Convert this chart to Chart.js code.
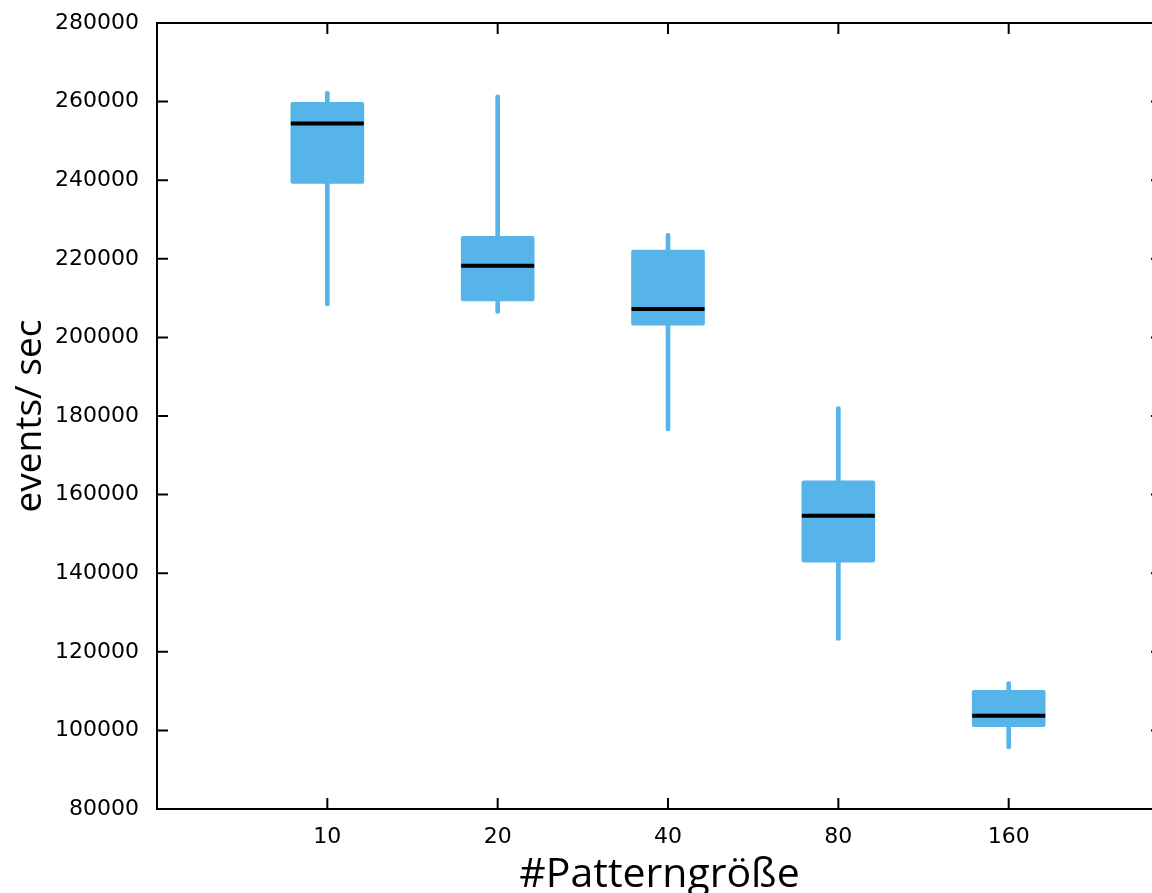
<!DOCTYPE html>
<html>
<head>
<meta charset="utf-8">
<script src="https://cdn.jsdelivr.net/npm/chart.js@4.4.1/dist/chart.umd.min.js"></script>
<style>
  html, body { margin: 0; padding: 0; background: #fff; overflow: hidden; }
  #wrap { width: 1175px; height: 893px; }
</style>
</head>
<body>
<div id="wrap"><canvas id="boxChart"></canvas></div>
<script>
// Pattern sizes (x categories)
const patternSizes = ['10', '20', '40', '80', '160'];

// Box plot statistics, events per second
const whiskerLow  = [208000, 206100, 176200, 122900, 95300];
const quartile1   = [239200, 209300, 203100, 142800, 100950];
const medians     = [254400, 218200, 207200, 154600, 103750];
const quartile3   = [259800, 225700, 222200, 163500, 110200];
const whiskerHigh = [262600, 261700, 226500, 182400, 112400];

// Y axis ticks
const yTicks = [80000, 100000, 120000, 140000, 160000, 180000, 200000, 220000, 240000, 260000, 280000];

const boxColor = '#56B4E9';

// frame around the plot + inward tick marks on all four sides
const frameTicks = {
    id: 'frameTicks',
    afterDatasetsDraw(chart) {
        const { ctx, chartArea: a, scales } = chart;
        const len = 11;
        ctx.save();
        ctx.strokeStyle = '#000';
        ctx.lineWidth = 2;
        ctx.beginPath();
        scales.y.ticks.forEach((t, i) => {
            const y = scales.y.getPixelForTick(i);
            ctx.moveTo(a.left, y); ctx.lineTo(a.left + len, y);
            ctx.moveTo(a.right, y); ctx.lineTo(a.right - len, y);
        });
        scales.x.ticks.forEach((t, i) => {
            const x = scales.x.getPixelForTick(i);
            ctx.moveTo(x, a.bottom); ctx.lineTo(x, a.bottom - len);
            ctx.moveTo(x, a.top); ctx.lineTo(x, a.top + len);
        });
        ctx.stroke();
        ctx.strokeRect(a.left, a.top, a.right - a.left, a.bottom - a.top);
        ctx.restore();
    }
};

const ctx = document.getElementById('boxChart').getContext('2d');

new Chart(ctx, {
    type: 'bar',
    data: {
        datasets: [
            {
                label: 'median',
                type: 'line',
                data: medians.map((v, i) => ({ x: i, y: v })),
                showLine: false,
                pointStyle: 'line',
                pointRadius: 36.5,
                pointHoverRadius: 36.5,
                pointBorderWidth: 4,
                pointBorderColor: '#000',
                borderColor: '#000',
                order: 1
            },
            {
                label: 'box',
                data: quartile1.map((v, i) => ({ x: i, y: [v, quartile3[i]] })),
                backgroundColor: boxColor,
                borderWidth: 0,
                borderRadius: 2,
                borderSkipped: false,
                barThickness: 73,
                grouped: false,
                order: 2
            },
            {
                label: 'whisker',
                data: whiskerLow.map((v, i) => ({ x: i, y: [v, whiskerHigh[i]] })),
                backgroundColor: boxColor,
                borderWidth: 0,
                borderRadius: 2,
                borderSkipped: false,
                barThickness: 4,
                grouped: false,
                order: 3
            }
        ]
    },
    options: {
        responsive: true,
        maintainAspectRatio: false,
        animation: false,
        layout: {
            autoPadding: false,
            padding: { top: 23, right: 13, bottom: 0, left: 0 }
        },
        plugins: {
            legend: { display: false },
            tooltip: { enabled: false }
        },
        scales: {
            x: {
                type: 'linear',
                offset: false,
                min: -1,
                max: 4.9,
                grid: { display: false, drawTicks: false },
                border: { display: false },
                afterBuildTicks: scale => {
                    scale.ticks = scale.ticks.filter(t => Number.isInteger(t.value) && t.value >= 0 && t.value < patternSizes.length);
                },
                afterFit: scale => {
                    scale.height = 84;
                    scale.paddingLeft = 0;
                    scale.paddingRight = 0;
                },
                ticks: {
                    stepSize: 1,
                    padding: 15,
                    maxRotation: 0,
                    color: '#000',
                    font: { family: "'DejaVu Sans'", size: 22 },
                    callback: value => patternSizes[value] || ''
                },
                title: {
                    display: true,
                    text: '#Patterngröße',
                    color: '#000',
                    font: { family: "'Open Sans'", size: 41, lineHeight: 1.0 },
                    padding: { top: 0, bottom: -3 }
                }
            },
            y: {
                min: 80000,
                max: 280000,
                grid: { display: false, drawTicks: false },
                border: { display: false },
                afterBuildTicks: scale => {
                    scale.ticks = yTicks.map(v => ({ value: v }));
                },
                afterFit: scale => {
                    scale.width = 157;
                    scale.paddingTop = 0;
                    scale.paddingBottom = 0;
                },
                ticks: {
                    padding: 18,
                    color: '#000',
                    font: { family: "'DejaVu Sans'", size: 22 },
                    callback: value => String(value)
                },
                title: {
                    display: true,
                    text: 'events/ sec',
                    color: '#000',
                    font: { family: "'Open Sans'", size: 37, lineHeight: 1.0 },
                    padding: { top: 12, bottom: 0 }
                }
            }
        }
    },
    plugins: [frameTicks]
});
</script>
</body>
</html>
